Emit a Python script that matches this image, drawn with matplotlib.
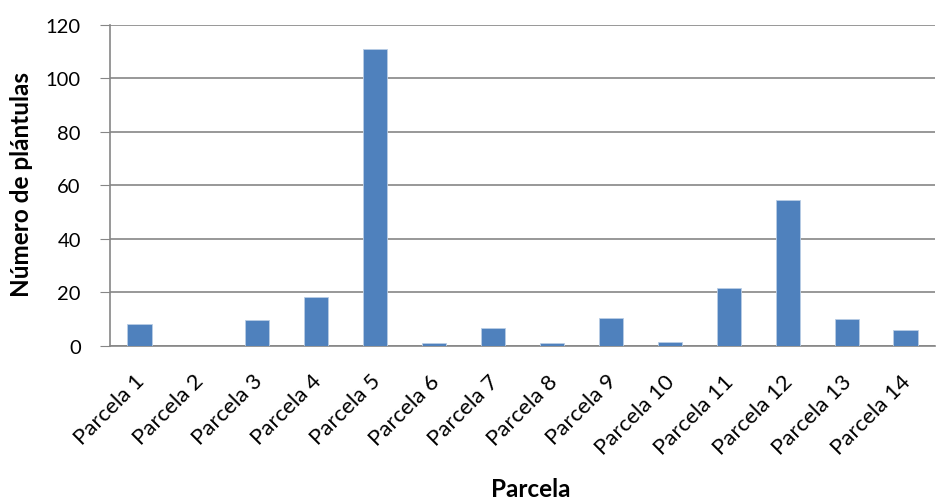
import numpy as np
import matplotlib.pyplot as plt
import matplotlib.transforms as mtransforms

# plántulas por parcela
parcelas = ['Parcela %d' % i for i in range(1, 15)]
plantulas = [8, 0, 9.5, 18, 111, 1, 6.4, 1, 10.3, 1.2, 21.7, 54.5, 9.8, 5.7]

bar_color = '#4F81BD'
grid_color = '#868686'

plt.rcParams['font.family'] = ['Lato', 'DejaVu Sans']

fig = plt.figure(figsize=(9.38, 5.02), dpi=100)
ax = fig.add_axes([110 / 938, 1 - 346.5 / 502, 825 / 938, 320.5 / 502])

x = np.arange(len(parcelas))
ax.bar(x, plantulas, width=0.41, color=bar_color, edgecolor='#B9CDE5',
       linewidth=0.6, zorder=3)

ax.set_xlim(-0.5, len(parcelas) - 0.5)
ax.set_ylim(0, 120)
ax.set_yticks(np.arange(0, 121, 20))
ax.yaxis.grid(True, color=grid_color, linewidth=1.2, zorder=0)

for side in ['top', 'right']:
    ax.spines[side].set_visible(False)
for side in ['left', 'bottom']:
    ax.spines[side].set_color(grid_color)
    ax.spines[side].set_linewidth(1.2)

ax.tick_params(axis='y', length=7, color=grid_color, labelsize=14.5, pad=14)
ax.tick_params(axis='x', length=0, labelsize=16, pad=18)
ax.set_xticks(x)
ax.set_xticklabels(parcelas, rotation=45, ha='right', va='top',
                   rotation_mode='anchor')
# nudge the slanted labels slightly left
shift = mtransforms.ScaledTranslation(-5 / 100, 0, fig.dpi_scale_trans)
for lbl in ax.get_xticklabels():
    lbl.set_transform(lbl.get_transform() + shift)

ax.set_ylabel('Número de plántulas', fontsize=17.5, fontweight='bold')
ax.yaxis.set_label_coords(-0.093, 0.505)
ax.set_xlabel('Parcela', fontsize=17.5, fontweight='bold', va='center')
ax.xaxis.set_label_coords(0.51, -0.445)

fig.savefig('out.png', dpi=100)
